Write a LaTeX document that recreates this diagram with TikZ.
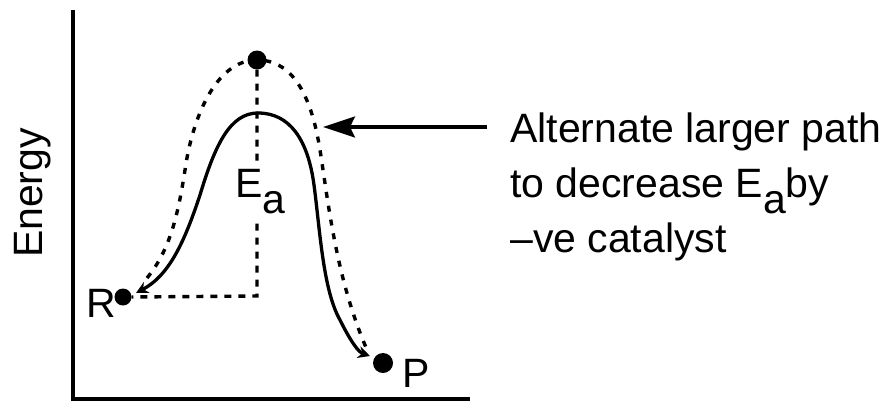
\documentclass[tikz,border=0pt]{standalone}
\usepackage{fontspec}
\setmainfont{Liberation Sans}
\usetikzlibrary{arrows.meta}
\tikzset{
  txt/.style={font=\fontsize{41}{50}\selectfont, inner sep=0pt},
  dotnode/.style={circle, fill=black, inner sep=0pt, minimum size=#1},
  axisline/.style={line width=3.2pt},
  solidcurve/.style={line width=3.3pt, {Stealth[length=12pt,width=12pt]}-{Stealth[length=12pt,width=12pt]}},
  dashcurve/.style={line width=3.4pt, dash pattern=on 6pt off 8pt},
  guide/.style={line width=3.4pt, dash pattern=on 7pt off 7pt},
  bigarrow/.style={line width=3.3pt, -{Stealth[length=32pt,width=21pt,inset=5pt]}}
}
\begin{document}
\begin{tikzpicture}[x=1pt,y=-1pt]
\useasboundingbox (0,0) rectangle (890,402);
% axes
\coordinate (ytop) at (73,10);
\coordinate (origin) at (73,399);
\coordinate (xend) at (470,399);
\draw[axisline] (ytop) -- (origin) -- (xend);
\node[txt, rotate=90, anchor=base] (energy) at (42,193) {Energy};
% dots
\node[dotnode=17pt] (R) at (123,297) {};
\node[dotnode=19pt] (T) at (257,60) {};
\node[dotnode=20pt] (P) at (383,363) {};
\node[txt, anchor=base west] (Rl) at (86,317) {R};
\node[txt, anchor=base west] (Pl) at (402,387) {P};
% guide lines
\coordinate (corner) at (257,296);
\draw[guide] (T.south) -- (corner) -- (R.east);
\node[txt, anchor=base west, fill=white, inner xsep=2pt, inner ysep=7pt] (Ea) at (233,197) {E\raisebox{-16pt}{a}};
% solid curve
\coordinate (sR) at (136,293);
\coordinate (sP) at (370,356);
\draw[solidcurve] (sR) .. controls (170,275) and (185,240) .. (200,195)
  .. controls (215,145) and (230,113) .. (258,113)
  .. controls (290,113) and (308,140) .. (314,185)
  .. controls (320,230) and (323,290) .. (340,320)
  .. controls (350,340) and (358,352) .. (sP);
% dashed curve
\coordinate (dR) at (147,278);
\coordinate (dP) at (368,352);
\draw[dashcurve] (dR) .. controls (170,250) and (178,215) .. (185,170)
  .. controls (192,120) and (215,60) .. (T.center)
  .. controls (295,60) and (312,100) .. (320,150)
  .. controls (328,200) and (336,280) .. (dP);
% text and arrow
\node[txt, anchor=base west] (t1) at (510,142) {Alternate larger path};
\node[txt, anchor=base west] (t2) at (510,197) {to decrease E\raisebox{-16pt}{a}by};
\node[txt, anchor=base west] (t3) at (510,252) {--ve catalyst};
\coordinate (astart) at (487,127);
\coordinate (atip) at (323,127);
\draw[bigarrow] (astart) -- (atip);
\end{tikzpicture}
\end{document}
